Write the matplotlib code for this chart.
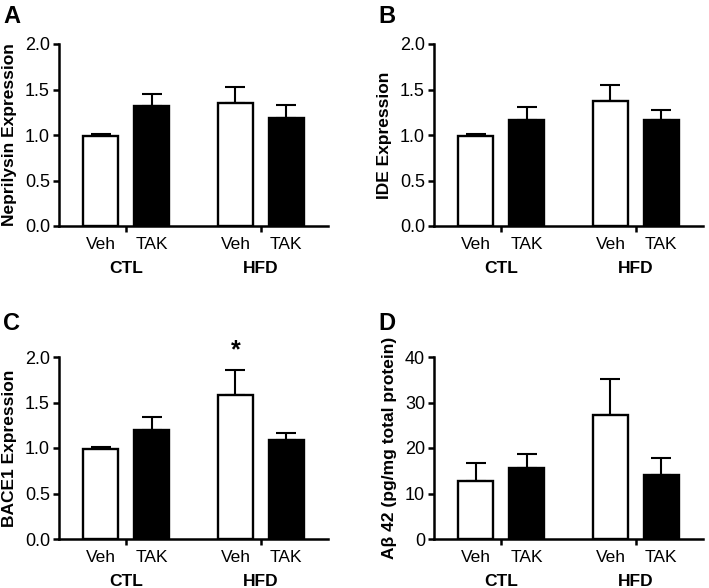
import numpy as np
import matplotlib.pyplot as plt

plt.rcParams['font.family'] = ['Liberation Sans', 'DejaVu Sans']

# bar order: CTL Veh, CTL TAK, HFD Veh, HFD TAK
treatments = ["Veh", "TAK", "Veh", "TAK"]
groups = ["CTL", "HFD"]

nep_mean = [0.99, 1.32, 1.35, 1.185]
nep_top = [1.01, 1.45, 1.53, 1.33]

ide_mean = [0.99, 1.17, 1.37, 1.16]
ide_top = [1.01, 1.31, 1.55, 1.28]

bace_mean = [0.99, 1.20, 1.58, 1.09]
bace_top = [1.01, 1.34, 1.86, 1.17]

ab_mean = [12.7, 15.6, 27.3, 14.1]
ab_top = [16.7, 18.7, 35.1, 17.8]

W, H = 709, 588
fig = plt.figure(figsize=(W / 100, H / 100), dpi=100)

pos = np.array([1.2, 2.65, 5.05, 6.5])
group_pos = [(pos[0] + pos[1]) / 2, (pos[2] + pos[3]) / 2]
colors = ['white', 'black', 'white', 'black']


def panel(left_px, bottom_px, mean, top, ylim, yticks, ylabel, letter, letter_top, star=None):
    ax = fig.add_axes([left_px / W, 1 - bottom_px / H, 269 / W, 182 / H])
    mean = np.array(mean)
    err = np.array(top) - mean
    ax.bar(pos, mean, width=1.0, color=colors, edgecolor='black', linewidth=1.7, zorder=3)
    ax.errorbar(pos, mean, yerr=[np.zeros(4), err], fmt='none', ecolor='black',
                elinewidth=1.5, capsize=7.5, capthick=1.5, zorder=2)
    ax.set_xlim(0, 7.7)
    ax.set_ylim(*ylim)
    ax.set_yticks(yticks)
    if isinstance(yticks[1], float):
        ax.set_yticklabels([f"{t:.1f}" for t in yticks])
    for s in ['top', 'right']:
        ax.spines[s].set_visible(False)
    for s in ['left', 'bottom']:
        ax.spines[s].set_linewidth(1.8)
    ax.tick_params(axis='y', labelsize=13, width=1.8, length=4.5, pad=2)
    ax.set_xticks(pos)
    ax.set_xticklabels(treatments)
    ax.set_xticks(group_pos, minor=True)
    ax.set_xticklabels(groups, minor=True, fontweight='bold')
    ax.tick_params(axis='x', which='major', length=0, labelsize=12.5, pad=8)
    ax.tick_params(axis='x', which='minor', length=4, width=1.8, labelsize=12.5, pad=21)
    ax.set_ylabel(ylabel, fontweight='bold', fontsize=12.5, labelpad=6)
    fig.text((left_px - 56) / W, 1 - letter_top / H, letter,
             fontsize=17, fontweight='bold', va='top', ha='left')
    if star is not None:
        ax.text(pos[star], top[star] + (ylim[1] - ylim[0]) * 0.04, '*',
                ha='center', va='bottom', fontsize=18, fontweight='bold',
                clip_on=False)
    return ax


panel(59, 226, nep_mean, nep_top, (0, 2.0), [0.0, 0.5, 1.0, 1.5, 2.0],
      "Neprilysin Expression", "A", 5)
panel(434, 226, ide_mean, ide_top, (0, 2.0), [0.0, 0.5, 1.0, 1.5, 2.0],
      "IDE Expression", "B", 5)
panel(59, 539, bace_mean, bace_top, (0, 2.0), [0.0, 0.5, 1.0, 1.5, 2.0],
      "BACE1 Expression", "C", 312, star=2)
panel(434, 539, ab_mean, ab_top, (0, 40), [0, 10, 20, 30, 40],
      "A\u03b2 42 (pg/mg total protein)", "D", 312)

fig.savefig("out.png", dpi=100)
